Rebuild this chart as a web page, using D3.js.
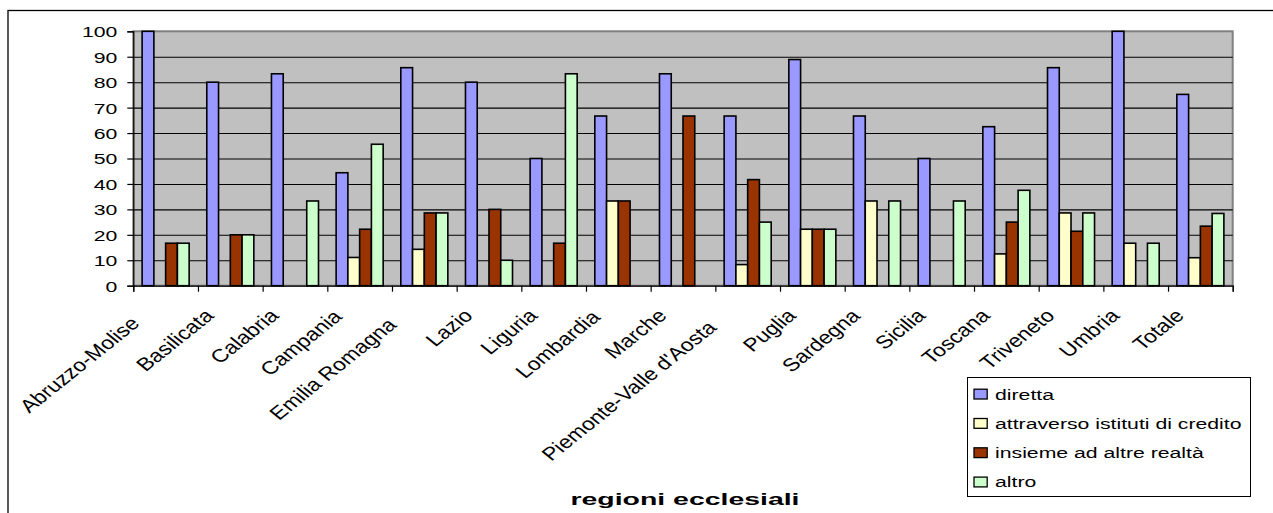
<!DOCTYPE html>
<html>
<head>
<meta charset="utf-8">
<script src="https://cdn.jsdelivr.net/npm/d3@7"></script>
<style>
  html, body { margin: 0; padding: 0; background: #fff; }
  svg { display: block; font-family: "Liberation Sans", Arial, sans-serif; }
</style>
</head>
<body>
<svg id="chart" width="1273" height="513"></svg>
<script>
// Categories (regioni ecclesiali)
const categories = ["Abruzzo-Molise", "Basilicata", "Calabria", "Campania", "Emilia Romagna",
  "Lazio", "Liguria", "Lombardia", "Marche", "Piemonte-Valle d'Aosta", "Puglia", "Sardegna",
  "Sicilia", "Toscana", "Triveneto", "Umbria", "Totale"];

// Series values (%)
const diretta  = [100, 80, 83.3, 44.4, 85.7, 80, 50, 66.7, 83.3, 66.7, 88.9, 66.7, 50, 62.5, 85.7, 100, 75.2];
const credito  = [0, 0, 0, 11.1, 14.3, 0, 0, 33.3, 0, 8.3, 22.2, 33.3, 0, 12.5, 28.6, 16.7, 11.0];
const insieme  = [16.7, 20, 0, 22.2, 28.6, 30, 16.7, 33.3, 66.7, 41.7, 22.2, 0, 0, 25, 21.4, 0, 23.4];
const altro    = [16.7, 20, 33.3, 55.6, 28.6, 10, 83.3, 0, 0, 25, 22.2, 33.3, 33.3, 37.5, 28.6, 16.7, 28.4];

const seriesNames = ["diretta", "attraverso istituti di credito", "insieme ad altre realtà", "altro"];
const seriesColors = ["#9999FF", "#FFFFCC", "#993300", "#CCFFCC"];
const yTicks = [0, 10, 20, 30, 40, 50, 60, 70, 80, 90, 100];
const axisTitle = "regioni ecclesiali";

const seriesValues = [diretta, credito, insieme, altro];

// Text is drawn horizontally widened
const SX = 1.37;
const FS = 15.5;
// Slanted category labels
const SX_LAB = 1.25;
const FS_LAB = 18.3;

const svg = d3.select("#chart");
const plot = { left: 133.3, right: 1232.7, top: 31.3, bottom: 285.7 };

// Outer chart frame
svg.append("rect")
  .attr("x", 8).attr("y", 10.5).attr("width", 1300).attr("height", 600)
  .attr("fill", "none").attr("stroke", "#000").attr("stroke-width", 1.3);

const y = d3.scaleLinear().domain([0, 100]).range([plot.bottom, plot.top]);
const x0 = d3.scaleBand().domain(categories).range([plot.left, plot.right]).paddingInner(0).paddingOuter(0);
const x1 = d3.scaleBand().domain(seriesNames).range([0, x0.bandwidth()]).paddingInner(0).paddingOuter(0.75);
const xb = d3.scaleLinear().domain([0, categories.length]).range([plot.left, plot.right]);

// Plot area background
svg.append("rect")
  .attr("x", plot.left).attr("y", plot.top)
  .attr("width", plot.right - plot.left).attr("height", plot.bottom - plot.top)
  .attr("fill", "#C0C0C0").attr("stroke", "#808080").attr("stroke-width", 2);

// Horizontal gridlines
const grid = svg.append("g")
  .attr("transform", `translate(${plot.left},0)`)
  .call(d3.axisLeft(y).tickValues(yTicks.filter(v => v > 0 && v < 100)).tickSize(-(plot.right - plot.left)).tickFormat(""));
grid.select(".domain").remove();
grid.selectAll("line").attr("stroke", "#000").attr("stroke-width", 1.1);

// Bars
const groups = svg.append("g").selectAll("g")
  .data(categories)
  .join("g")
  .attr("transform", d => `translate(${x0(d)},0)`);

groups.selectAll("rect")
  .data((d, i) => seriesNames.map((s, j) => ({ s, j, v: seriesValues[j][i] })).filter(e => e.v > 0))
  .join("rect")
  .attr("x", e => x1(e.s))
  .attr("width", x1.bandwidth())
  .attr("y", e => y(e.v))
  .attr("height", e => y(0) - y(e.v))
  .attr("fill", e => seriesColors[e.j])
  .attr("stroke", "#000")
  .attr("stroke-width", 1.6);

// Y axis
const yAxis = svg.append("g")
  .attr("transform", `translate(${plot.left},0)`)
  .call(d3.axisLeft(y).tickValues(yTicks).tickSize(6).tickPadding(0));
yAxis.select(".domain").attr("stroke", "#000").attr("stroke-width", 1.2);
yAxis.selectAll("line").attr("stroke", "#000").attr("stroke-width", 1.2);
yAxis.selectAll("text")
  .attr("x", 0).attr("dy", null)
  .attr("transform", `translate(-16,0) scale(${SX},1)`)
  .attr("text-anchor", "end")
  .attr("dominant-baseline", "central")
  .attr("font-family", "'Liberation Sans', Arial, sans-serif")
  .attr("font-size", FS)
  .attr("fill", "#000");

// X axis with ticks at category boundaries
const xAxis = svg.append("g")
  .attr("transform", `translate(0,${plot.bottom})`)
  .call(d3.axisBottom(xb).tickValues(d3.range(categories.length + 1)).tickSize(6).tickFormat(""));
xAxis.select(".domain").attr("stroke", "#000").attr("stroke-width", 1.2);
xAxis.selectAll("line").attr("stroke", "#000").attr("stroke-width", 1.2);

// Rotated category labels; longer names slide a little further down their slant
const labels = svg.append("g").selectAll("text")
  .data(categories)
  .join("text")
  .attr("text-anchor", "end")
  .attr("font-size", FS_LAB)
  .attr("fill", "#000")
  .text(d => d);

labels.each(function (d) {
  const lenEm = this.getComputedTextLength() / FS_LAB;
  const s = Math.min(Math.max(0, lenEm - 4.2) * 4.2, 17);
  const cx = x0(d) + x0.bandwidth() / 2;
  const ex = cx - 15 - s * Math.SQRT1_2 * SX_LAB;
  const ey = plot.bottom + 31 + s * Math.SQRT1_2;
  d3.select(this).attr("transform", `translate(${ex},${ey}) scale(${SX_LAB},1) rotate(-45)`);
});

// Axis title
svg.append("text")
  .attr("x", (plot.left + plot.right) / 2 + 2)
  .attr("y", 504.7)
  .attr("text-anchor", "middle")
  .attr("font-size", 17)
  .attr("font-weight", "bold")
  .attr("textLength", 229)
  .attr("lengthAdjust", "spacingAndGlyphs")
  .attr("fill", "#000")
  .text(axisTitle);

// Legend
const legend = svg.append("g");
legend.append("rect")
  .attr("x", 967.5).attr("y", 377.5).attr("width", 283).attr("height", 119)
  .attr("fill", "#fff").attr("stroke", "#000").attr("stroke-width", 1);

const items = legend.selectAll("g.item")
  .data(seriesNames)
  .join("g")
  .attr("class", "item")
  .attr("transform", (d, i) => `translate(0,${399.5 + i * 29.3})`);

items.append("rect")
  .attr("x", 974).attr("y", -10.3).attr("width", 13.2).attr("height", 9.8)
  .attr("fill", (d, i) => seriesColors[i])
  .attr("stroke", "#000").attr("stroke-width", 1.3);

items.append("text")
  .attr("transform", `translate(995,0) scale(${SX},1)`)
  .attr("font-size", FS)
  .attr("fill", "#000")
  .text(d => d);
</script>
</body>
</html>
